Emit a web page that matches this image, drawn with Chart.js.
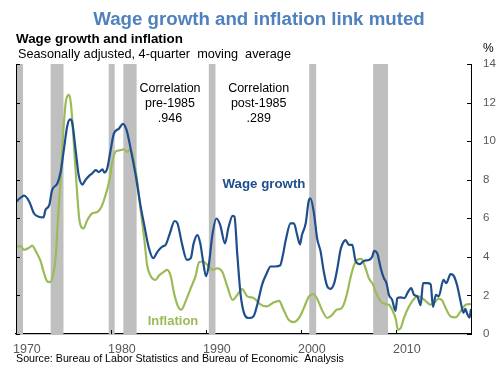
<!DOCTYPE html>
<html>
<head>
<meta charset="utf-8">
<script src="https://cdn.jsdelivr.net/npm/chart.js@4.4.1/dist/chart.umd.min.js"></script>
<style>
  html, body { margin: 0; padding: 0; background: #fff; }
</style>
</head>
<body>
<canvas id="canvas" width="500" height="365"></canvas>
<script>
// values, 4-quarter moving average, %
const wageYears = [1970.0, 1970.4, 1970.85, 1971.4, 1971.9, 1972.4, 1972.9, 1973.1, 1973.5, 1973.8,
  1974.35, 1974.7, 1975.05, 1975.4, 1975.7, 1975.9, 1976.3, 1976.6, 1977.0, 1977.3,
  1977.7, 1978.0, 1978.4, 1978.7, 1979.1, 1979.3, 1979.6, 1979.96, 1980.3, 1980.84,
  1981.26, 1981.65, 1982.07, 1982.6, 1983.1, 1983.5, 1984.0, 1984.45, 1984.9, 1985.4,
  1985.75, 1986.2, 1986.7, 1987.0, 1987.5, 1988.0, 1988.4, 1988.7, 1989.1, 1989.4,
  1989.7, 1990.0, 1990.3, 1990.67, 1991.1, 1991.5, 1992.0, 1992.35, 1992.8, 1993.0,
  1993.3, 1993.65, 1994.07, 1994.5, 1995.0, 1995.4, 1995.9, 1996.4, 1996.8, 1997.3,
  1997.8, 1998.1, 1998.4, 1998.9, 1999.26, 1999.6, 1999.9, 2000.1, 2000.5, 2000.8,
  2001.0, 2001.37, 2001.7, 2002.07, 2002.4, 2002.77, 2003.1, 2003.5, 2003.8, 2004.2,
  2004.5, 2004.7, 2005.05, 2005.4, 2005.75, 2006.2, 2006.6, 2007.15, 2007.5, 2007.7,
  2008.03, 2008.4, 2008.73, 2009.0, 2009.26, 2009.6, 2009.95, 2010.14, 2010.5, 2010.9,
  2011.2, 2011.6, 2011.9, 2012.25, 2012.6, 2012.85, 2013.3, 2013.65, 2013.9, 2014.2,
  2014.5, 2015.0, 2015.3, 2015.75, 2016.1, 2016.45, 2016.8, 2017.1, 2017.3, 2017.5,
  2017.75, 2017.9];
const wageValues = [6.86, 7.03, 7.17, 6.86, 6.25, 6.08, 6.05, 6.43, 6.68, 7.46,
  7.8, 8.4, 9.6, 10.8, 11.13, 11.0, 9.44, 8.23, 7.75, 7.98,
  8.2, 8.32, 8.5, 8.4, 8.54, 8.37, 8.58, 9.53, 10.39, 10.65,
  10.9, 10.56, 9.61, 8.23, 6.68, 5.65, 4.44, 3.93, 4.27, 4.53,
  4.62, 5.22, 5.86, 5.74, 4.62, 3.84, 3.93, 4.7, 5.13, 4.7,
  3.76, 3.0, 3.58, 5.13, 5.99, 5.65, 4.7, 5.48, 6.13, 6.08,
  4.1, 2.03, 1.0, 0.83, 0.91, 1.52, 2.55, 3.15, 3.5, 3.5,
  3.55, 4.1, 4.87, 5.74, 5.74, 5.13, 4.65, 5.13, 5.74, 6.86,
  7.03, 6.25, 4.96, 4.27, 3.24, 2.46, 2.34, 2.64, 3.32, 4.44,
  4.79, 4.87, 4.62, 4.62, 3.79, 3.62, 3.79, 3.84, 4.01, 4.31,
  4.19, 3.41, 2.89, 2.64, 2.03, 1.77, 1.2, 1.86, 1.9, 1.86,
  2.12, 2.38, 2.03, 1.95, 1.5, 2.64, 2.64, 2.58, 1.4, 2.03,
  1.95, 2.81, 2.64, 3.1, 3.0, 2.5, 1.7, 1.1, 1.3, 1.05,
  0.85, 1.3];

const inflationYears = [1970.0, 1970.5, 1970.85, 1971.4, 1971.7, 1972.1, 1972.6, 1972.95, 1973.3, 1973.6,
  1973.9, 1974.2, 1974.4, 1974.7, 1975.05, 1975.3, 1975.6, 1975.8, 1976.1, 1976.45,
  1976.7, 1977.1, 1977.5, 1978.0, 1978.6, 1979.0, 1979.3, 1979.8, 1980.14, 1980.5,
  1981.0, 1981.36, 1981.7, 1982.07, 1982.4, 1982.77, 1983.1, 1983.5, 1983.8, 1984.2,
  1984.7, 1985.05, 1985.6, 1985.9, 1986.3, 1986.6, 1987.05, 1987.4, 1987.85, 1988.4,
  1988.9, 1989.27, 1989.7, 1990.15, 1990.67, 1991.2, 1991.7, 1992.25, 1992.8, 1993.3,
  1993.8, 1994.35, 1995.05, 1995.76, 1996.4, 1997.0, 1997.7, 1998.1, 1998.7, 1999.26,
  1999.8, 2000.3, 2000.84, 2001.3, 2001.7, 2002.2, 2002.77, 2003.3, 2003.75, 2004.2,
  2004.5, 2004.9, 2005.2, 2005.6, 2005.9, 2006.35, 2006.8, 2007.15, 2007.6, 2007.85,
  2008.4, 2008.9, 2009.26, 2009.6, 2010.0, 2010.2, 2010.5, 2010.84, 2011.2, 2011.7,
  2012.25, 2012.6, 2013.1, 2013.65, 2014.0, 2014.5, 2014.9, 2015.2, 2015.75, 2016.3,
  2016.8, 2017.3, 2017.9];
const inflationValues = [4.53, 4.56, 4.36, 4.48, 4.58, 4.27, 3.76, 3.15, 2.72, 2.69,
  3.07, 4.1, 5.82, 8.06, 11.0, 12.2, 12.4, 11.85, 9.78, 7.2,
  5.82, 5.48, 5.9, 6.25, 6.34, 6.6, 7.0, 7.89, 8.92, 9.47,
  9.53, 9.58, 9.44, 9.58, 9.0, 7.89, 6.51, 4.96, 3.58, 2.98,
  2.8, 3.03, 3.24, 3.32, 2.98, 2.2, 1.43, 1.26, 1.69, 2.38,
  3.0, 3.72, 3.76, 3.58, 3.32, 3.41, 3.24, 2.46, 1.77, 2.03,
  2.33, 1.95, 1.86, 1.52, 1.43, 1.6, 1.72, 1.34, 0.74, 0.62,
  0.83, 1.34, 1.95, 2.07, 1.83, 1.26, 0.83, 1.0, 1.26, 1.31,
  1.52, 2.2, 2.89, 3.58, 3.84, 3.9, 3.41, 2.89, 2.55, 2.2,
  1.69, 1.55, 1.52, 1.26, 0.74, 0.22, 0.31, 0.83, 1.26, 1.69,
  1.95, 1.91, 1.72, 1.52, 1.6, 1.83, 1.72, 1.38, 0.91, 0.86,
  1.17, 1.5, 1.55];

const recessionStart = [1969.9, 1973.65, 1979.76, 1981.3, 1990.3, 2000.87, 2007.6];
const recessionEnd = [1970.74, 1975.0, 1980.39, 1982.7, 1991.0, 2001.6, 2009.16];
const yearTicks = [1970, 1980, 1990, 2000, 2010];
const percentTicks = [0, 2, 4, 6, 8, 10, 12, 14];

const FONT = "'Liberation Sans', Arial, sans-serif";
Chart.defaults.font.family = FONT;

const toPoints = (xs, ys) => xs.map((x, i) => ({ x: x, y: ys[i] }));

const recessionBands = {
  id: 'recessionBands',
  beforeDatasetsDraw(chart) {
    const { ctx, chartArea: a, scales: { x } } = chart;
    ctx.save();
    ctx.beginPath();
    ctx.rect(a.left, a.top, a.width, a.height);
    ctx.clip();
    ctx.fillStyle = '#bfbfbf';
    recessionStart.forEach((s, i) => {
      const x0 = x.getPixelForValue(s);
      const x1 = x.getPixelForValue(recessionEnd[i]);
      ctx.fillRect(x0, a.top, x1 - x0, a.height);
    });
    ctx.restore();
  }
};

// left axis line plus the little inward tick marks
const axisFrame = {
  id: 'axisFrame',
  afterDraw(chart) {
    const { ctx, chartArea: a, scales: { x, y } } = chart;
    ctx.save();
    ctx.strokeStyle = '#000';
    ctx.lineWidth = 1;
    ctx.beginPath();
    ctx.moveTo(a.left + 0.5, a.top);
    ctx.lineTo(a.left + 0.5, a.bottom);
    percentTicks.forEach(v => {
      const py = Math.round(y.getPixelForValue(v)) + 0.5;
      ctx.moveTo(a.left, py); ctx.lineTo(a.left + 4, py);
      ctx.moveTo(a.right, py); ctx.lineTo(a.right - 4, py);
    });
    yearTicks.forEach(v => {
      const px = Math.round(x.getPixelForValue(v)) + 0.5;
      ctx.moveTo(px, a.bottom); ctx.lineTo(px, a.bottom - 4);
    });
    ctx.stroke();
    ctx.restore();
  }
};

const textLayer = {
  id: 'textLayer',
  afterDraw(chart) {
    const ctx = chart.ctx;
    const put = (txt, px, py, font, color, align) => {
      ctx.font = font;
      ctx.fillStyle = color;
      ctx.textAlign = align || 'left';
      ctx.textBaseline = 'alphabetic';
      ctx.fillText(txt, px, py);
    };
    ctx.save();
    put('Wage growth and inflation link muted', 259, 25, 'bold 18.7px ' + FONT, '#4f81bd', 'center');
    put('Wage growth and inflation', 16, 43, 'bold 13.4px ' + FONT, '#000');
    put('Seasonally adjusted, 4-quarter  moving  average', 18, 57.5, '12.7px ' + FONT, '#000');
    put('%', 483, 52, '12px ' + FONT, '#000');
    put('Source: Bureau of Labor Statistics and Bureau of Economic  Analysis', 16, 362, '10.7px ' + FONT, '#000');

    const note = '12.5px ' + FONT;
    put('Correlation', 170, 92.3, note, '#000', 'center');
    put('pre-1985', 170, 107.3, note, '#000', 'center');
    put('.946', 170, 121.7, note, '#000', 'center');
    put('Correlation', 258.7, 92.3, note, '#000', 'center');
    put('post-1985', 258.7, 107.3, note, '#000', 'center');
    put('.289', 258.7, 121.7, note, '#000', 'center');

    put('Wage growth', 264, 188, 'bold 13.3px ' + FONT, '#1f4e8d', 'center');
    put('Inflation', 173, 325, 'bold 13px ' + FONT, '#9bbb59', 'center');
    ctx.restore();
  }
};

const config = {
  type: 'line',
  data: {
    datasets: [
      {
        label: 'Wage growth',
        data: toPoints(wageYears, wageValues),
        borderColor: '#1f4e8d',
        borderWidth: 2.2,
        pointRadius: 0,
        cubicInterpolationMode: 'monotone',
        fill: false,
      },
      {
        label: 'Inflation',
        data: toPoints(inflationYears, inflationValues),
        borderColor: '#9bbb59',
        borderWidth: 2.2,
        pointRadius: 0,
        cubicInterpolationMode: 'monotone',
        fill: false,
      },
    ],
  },
  options: {
    responsive: false,
    animation: false,
    devicePixelRatio: 1,
    layout: { padding: { left: 16, top: 64, right: 0, bottom: 0 } },
    plugins: {
      legend: { display: false },
      tooltip: { enabled: false },
      title: { display: false },
    },
    scales: {
      x: {
        type: 'linear',
        position: 'bottom',
        min: 1970,
        max: 2017.9,
        grid: { display: false, drawTicks: false },
        border: { display: true, color: '#000', width: 1.3 },
        ticks: {
          stepSize: 10,
          includeBounds: false,
          autoSkip: false,
          maxRotation: 0,
          align: 'start',
          padding: 8,
          labelOffset: -3,
          color: '#595959',
          font: { size: 12.5 },
          callback: (v) => (yearTicks.includes(v) ? String(v) : ''),
        },
        afterFit: (scale) => { scale.height = 31; },
      },
      y: {
        position: 'right',
        min: 0,
        max: 14,
        grid: { display: false, drawTicks: false },
        border: { display: true, color: '#000', width: 1 },
        ticks: {
          stepSize: 2,
          padding: 12,
          color: '#595959',
          font: { size: 11.5 },
        },
        afterFit: (scale) => { scale.width = 29; },
      },
    },
  },
  plugins: [recessionBands, axisFrame, textLayer],
};

const ctx = document.getElementById('canvas').getContext('2d');
window.myLine = new Chart(ctx, config);
</script>
</body>
</html>
